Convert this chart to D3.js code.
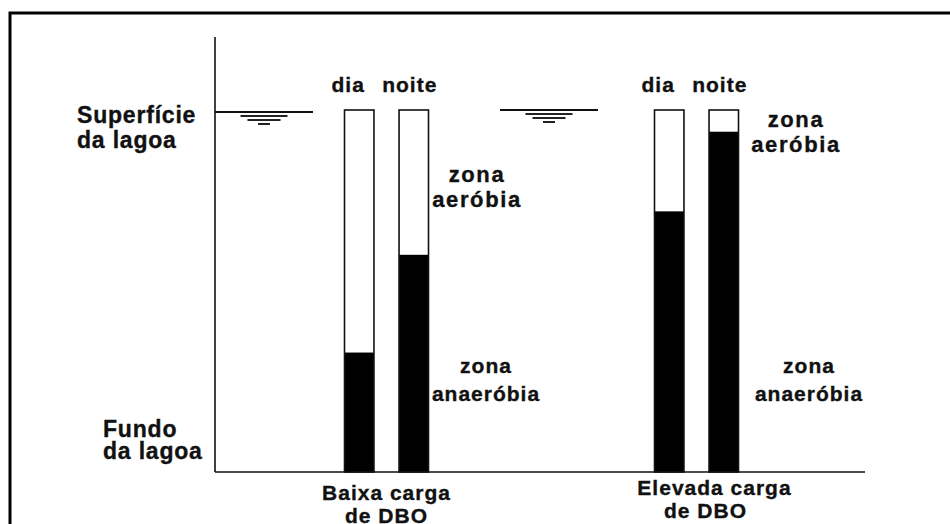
<!DOCTYPE html>
<html>
<head>
<meta charset="utf-8">
<script src="https://cdn.jsdelivr.net/npm/d3@7"></script>
<style>
    body { margin: 0; background: white; }
    text { font-family: "Liberation Sans", Arial, sans-serif; font-weight: bold; font-size: 21px; fill: #111; stroke: #111; stroke-width: 0.35px; letter-spacing: 1px; }
    text.side { font-size: 23px; letter-spacing: 0.8px; }
    text.aero { font-size: 22px; letter-spacing: 1.6px; }
</style>
</head>
<body>
<svg id="mainSvg" width="950" height="524"></svg>
<script>
// data: fraction of lagoon depth occupied by the aerobic zone (0 = surface, 1 = bottom)
var groups = ["Baixa carga", "Elevada carga"];
var periods = ["dia", "noite"];
var aerobicDepth = [[0.67, 0.40],    // Baixa carga: dia, noite
                    [0.28, 0.06]];   // Elevada carga: dia, noite

var lineColor = "#111";         // 线条颜色
var anaerobicColor = "black";   // 厌氧区填充
var aerobicColor = "white";     // 好氧区填充

window.addEventListener("load", drawLagoa);

/**
 * draw the lagoon diagram
 * @param: none
 * @return: none
 * */
function drawLagoa()
{
    const svg = d3.select("#mainSvg");

    // outer frame (cut by the picture on the right and bottom)
    svg.append("rect")
        .attr("x", 10).attr("y", 13)
        .attr("width", 1000).attr("height", 600)
        .attr("fill", "none")
        .attr("stroke", "black")
        .attr("stroke-width", 3);

    const yScale = d3.scaleLinear().domain([0, 1]).range([110, 472]);
    const xGroup = d3.scalePoint().domain(groups).range([386.5, 696.5]);
    const xPeriod = d3.scaleBand().domain(periods).range([-42, 42]).paddingInner(0.46);
    const bw = xPeriod.bandwidth();

    // axes: vertical depth line and bottom line
    svg.append("line")
        .attr("x1", 215).attr("x2", 215)
        .attr("y1", 37).attr("y2", yScale(1))
        .attr("stroke", lineColor).attr("stroke-width", 1.6);
    svg.append("line")
        .attr("x1", 215).attr("x2", 865)
        .attr("y1", yScale(1)).attr("y2", yScale(1))
        .attr("stroke", lineColor).attr("stroke-width", 1.6);

    // water surface symbols
    const surfaces = [{cx: 264, y: 112, x0: 215}, {cx: 549, y: 110, x0: 500}];
    surfaces.forEach(s => {
        const g = svg.append("g");
        g.append("line")
            .attr("x1", s.x0).attr("x2", s.cx + 49)
            .attr("y1", s.y).attr("y2", s.y)
            .attr("stroke", lineColor).attr("stroke-width", 1.8);
        [[47, 4], [33, 8], [12, 12]].forEach(w => {
            g.append("line")
                .attr("x1", s.cx - w[0] / 2).attr("x2", s.cx + w[0] / 2)
                .attr("y1", s.y + w[1]).attr("y2", s.y + w[1])
                .attr("stroke", "#222").attr("stroke-width", 2);
        });
    });

    // bars
    const cells = [];
    groups.forEach((grp, i) => periods.forEach((p, j) => cells.push({grp: grp, period: p, v: aerobicDepth[i][j]})));
    const bars = svg.selectAll(".bar").data(cells).join("g").attr("class", "bar")
        .attr("transform", d => `translate(${xGroup(d.grp) + xPeriod(d.period)}, 0)`);
    bars.append("rect")
        .attr("x", 0).attr("width", bw)
        .attr("y", yScale(0))
        .attr("height", d => yScale(d.v) - yScale(0))
        .attr("fill", aerobicColor);
    bars.append("rect")
        .attr("x", 0).attr("width", bw)
        .attr("y", d => yScale(d.v))
        .attr("height", d => yScale(1) - yScale(d.v))
        .attr("fill", anaerobicColor);
    bars.append("rect")
        .attr("x", 0).attr("width", bw)
        .attr("y", yScale(0))
        .attr("height", d => yScale(1) - yScale(0))
        .attr("fill", "none")
        .attr("stroke", lineColor).attr("stroke-width", 1.6);

    // period labels above bars
    svg.selectAll(".period").data(cells).join("text").attr("class", "period")
        .attr("x", d => xGroup(d.grp) + xPeriod(d.period) + bw / 2 + (d.period === "dia" ? -11 : -4))
        .attr("y", 92)
        .attr("text-anchor", "middle")
        .text(d => d.period);

    // group labels below
    groups.forEach((grp, i) => {
        const t = svg.append("text")
            .attr("text-anchor", "middle")
            .attr("x", xGroup(grp) + (i === 0 ? 0 : 18))
            .attr("y", i === 0 ? 500 : 495);
        t.append("tspan").text(grp);
        t.append("tspan").attr("x", xGroup(grp) + (i === 0 ? 0 : 9)).attr("dy", 23).text("de DBO");
    });

    // zone labels
    function twoLines(x, y, dy, a, b, cls, anchor)
    {
        const t = svg.append("text").attr("class", cls)
            .attr("text-anchor", anchor || "middle").attr("x", x).attr("y", y);
        t.append("tspan").text(a);
        t.append("tspan").attr("x", x).attr("dy", dy).text(b);
    }
    twoLines(77, 123, 25, "Superfície", "da lagoa", "side", "start");
    twoLines(103, 437, 22, "Fundo", "da lagoa", "side", "start");
    twoLines(477, 182, 25, "zona", "aeróbia", "aero");
    twoLines(796, 127, 25, "zona", "aeróbia", "aero");
    twoLines(486, 373, 28, "zona", "anaeróbia", "");
    twoLines(809, 373, 28, "zona", "anaeróbia", "");
}
</script>
</body>
</html>
